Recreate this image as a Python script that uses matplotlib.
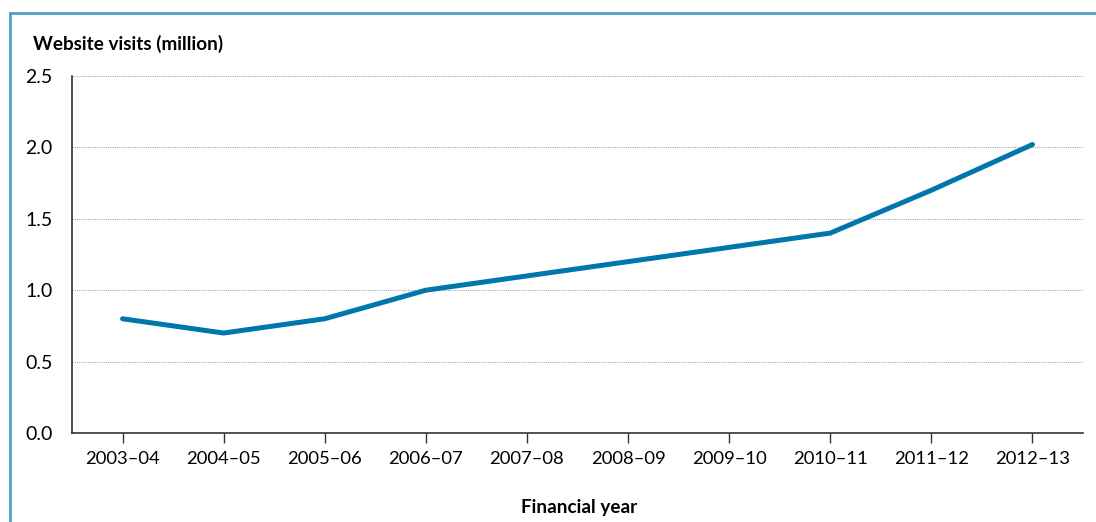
import matplotlib
matplotlib.use('Agg')
import matplotlib.pyplot as plt
from matplotlib.lines import Line2D

years = ['2003–04', '2004–05', '2005–06', '2006–07', '2007–08',
         '2008–09', '2009–10', '2010–11', '2011–12', '2012–13']
visits = [0.8, 0.7, 0.8, 1.0, 1.1, 1.2, 1.3, 1.4, 1.7, 2.02]
yticks = [0.0, 0.5, 1.0, 1.5, 2.0, 2.5]

plt.rcParams['font.family'] = ['Lato', 'DejaVu Sans']

fig = plt.figure(figsize=(10.96, 5.22), dpi=100)
ax = fig.add_axes([72/1096, 89/522, 1011/1096, 357/522])

ax.plot(range(len(years)), visits, color='#0077aa', lw=3.6,
        solid_capstyle='round', solid_joinstyle='round', zorder=3)

ax.set_xlim(-0.5, len(years) - 0.5)
ax.set_ylim(0, 2.5)
ax.set_xticks(range(len(years)))
ax.set_xticklabels(years, fontsize=13.3)
ax.set_yticks(yticks)
ax.set_yticklabels([f'{v:.1f}' for v in yticks], fontsize=14)
ax.tick_params(axis='x', length=7, width=1, color='#333333', pad=6)
ax.tick_params(axis='y', length=0, pad=14)

for v in yticks[1:]:
    ax.axhline(v, color='#aaaaaa', lw=0.8, ls=(0, (1, 1)), zorder=1)

for side in ('top', 'right'):
    ax.spines[side].set_visible(False)
for side in ('left', 'bottom'):
    ax.spines[side].set_color('#333333')
    ax.spines[side].set_linewidth(1.2)

fig.text(33/1096, 1 - 44/522, 'Website visits (million)', fontsize=13.6,
         fontweight='bold', va='center', ha='left')
fig.text(579/1096, 1 - 507/522, 'Financial year', fontsize=13.6,
         fontweight='bold', va='center', ha='center')

# blue frame along the top and left edges
frame = '#4fa0cc'
fig.add_artist(Line2D([10/1096, 10/1096], [0, 1 - 13/522], color=frame, lw=2,
                      transform=fig.transFigure))
fig.add_artist(Line2D([10/1096, 1], [1 - 13/522, 1 - 13/522], color=frame, lw=2,
                      transform=fig.transFigure))

fig.savefig('out.png', dpi=100)
